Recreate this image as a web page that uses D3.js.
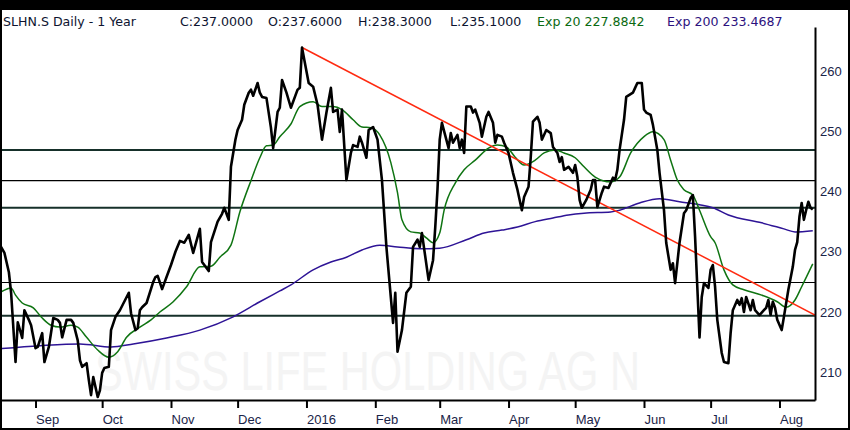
<!DOCTYPE html>
<html>
<head>
<meta charset="utf-8">
<script src="https://cdn.jsdelivr.net/npm/d3@7"></script>
<style>
  body { margin: 0; background: #000; }
  svg { display: block; }
</style>
</head>
<body>
<div id="chart"></div>
<script>
// Day numbers are days after 16 Aug 2015
const startDate = new Date(2015, 7, 16);
const endDay = 367;

// Daily close (approx): [day, price]
const price = [
  [0,231.1],[2,229.8],[4,226.6],[5,223.2],[7,211.7],[8,218.3],[10,215.7],[11,220.3],[13,218.7],[14,217.8],
  [16,214.0],[17,214.2],[19,216.5],[20,211.7],[22,214.2],[24,219.0],[26,218.7],[27,218.2],[28,215.8],[30,218.7],
  [32,218.7],[33,218.2],[35,215.3],[36,212.0],[37,210.9],[39,211.5],[40,208.7],[41,206.2],[42,209.2],[44,205.9],
  [45,207.0],[46,209.9],[47,210.7],[49,210.9],[50,217.0],[52,219.2],[54,220.3],[58,223.2],[59,219.8],[61,217.0],
  [62,217.3],[63,220.3],[64,220.8],[66,221.5],[69,225.0],[70,225.8],[71,226.0],[73,223.8],[75,225.8],[77,227.8],
  [79,230.0],[81,231.8],[83,231.5],[85,232.8],[87,229.8],[90,233.8],[91,228.3],[94,226.8],[95,231.6],[98,235.0],
  [100,236.3],[101,237.3],[103,235.3],[104,244.1],[106,248.6],[107,250.2],[109,251.9],[110,254.4],[112,256.4],[113,256.9],
  [114,255.9],[116,258.0],[117,256.4],[118,255.7],[120,255.5],[122,250.6],[123,247.2],[125,253.2],[126,253.9],[127,258.5],
  [129,256.4],[131,253.9],[134,256.9],[135,257.2],[136,263.9],[137,261.9],[139,258.0],[141,257.4],[143,254.4],[145,248.6],
  [147,253.1],[149,257.2],[150,253.2],[152,253.6],[153,249.9],[154,253.6],[156,241.9],[158,246.4],[159,247.7],[161,247.4],
  [162,249.1],[163,248.1],[165,245.6],[166,250.2],[168,250.7],[170,248.6],[172,241.9],[174,230.8],[177,218.2],[178,223.2],
  [179,213.4],[181,217.0],[183,223.2],[185,224.2],[186,230.8],[188,232.0],[189,230.8],[190,233.1],[193,225.3],[195,228.6],
  [196,234.1],[197,240.3],[198,248.6],[199,251.4],[202,247.2],[203,249.7],[204,248.1],[206,249.4],[207,247.2],[208,248.6],
  [209,246.4],[210,254.1],[212,254.1],[213,253.1],[214,253.6],[216,251.4],[217,249.1],[219,252.4],[220,253.2],[222,251.4],
  [223,248.1],[224,249.4],[226,249.1],[227,248.1],[229,246.4],[231,243.1],[233,240.3],[235,236.9],[236,239.1],[238,240.8],
  [239,245.7],[240,251.6],[242,252.4],[243,251.4],[244,248.6],[246,250.2],[248,249.7],[249,247.4],[251,246.4],[252,244.9],
  [253,245.7],[254,243.6],[256,244.1],[258,243.1],[259,244.4],[260,242.4],[261,238.6],[262,237.3],[264,238.6],[266,240.3],
  [267,241.9],[268,241.9],[269,237.4],[271,239.8],[272,240.8],[274,240.6],[276,242.3],[277,241.9],[278,243.6],[279,246.9],
  [281,251.9],[282,255.7],[285,256.4],[286,257.2],[287,258.0],[289,258.0],[290,253.6],[291,253.1],[293,252.7],[294,251.1],
  [296,246.9],[297,243.1],[299,236.9],[300,231.5],[302,227.0],[303,228.1],[304,224.8],[306,231.5],[308,236.4],[309,236.9],
  [311,238.9],[312,239.4],[313,232.5],[314,224.2],[315,215.8],[316,222.5],[317,224.8],[319,224.0],[320,227.0],[321,227.8],
  [322,224.2],[323,218.7],[325,213.2],[326,211.7],[328,211.5],[329,216.5],[330,220.3],[332,222.0],[333,221.2],[334,222.3],
  [335,220.0],[336,222.5],[338,220.3],[339,222.0],[340,220.3],[342,219.5],[344,220.3],[345,220.7],[346,222.0],[347,219.5],
  [348,221.7],[349,220.7],[350,218.7],[352,217.0],[353,219.2],[355,223.7],[357,227.5],[358,230.3],[359,231.6],[360,235.8],
  [361,238.1],[362,235.3],[363,236.9],[364,238.3],[365,237.3],[366,237.0]
];

// 20-day exponential average
const exp20 = [
  [0,223.2],[5,224.0],[7,222.8],[10,221.5],[15,220.7],[19,219.0],[23,217.8],[27,217.5],[32,217.8],[35,217.5],
  [39,215.8],[44,213.7],[49,212.5],[53,213.4],[57,215.8],[63,217.5],[68,218.7],[72,220.0],[78,221.7],[84,224.2],
  [90,227.5],[95,227.6],[99,229.1],[104,231.1],[108,236.6],[113,241.8],[117,245.6],[120,247.6],[123,247.7],[126,249.1],
  [131,251.2],[135,254.1],[141,254.9],[145,254.1],[150,254.1],[154,253.6],[159,251.9],[163,250.7],[167,250.6],[171,249.4],
  [176,244.8],[179,239.8],[181,235.3],[185,233.3],[189,233.1],[192,232.3],[195,231.5],[198,233.1],[200,236.9],[205,241.4],
  [209,243.6],[214,245.2],[220,247.2],[224,247.7],[228,247.4],[232,245.7],[236,244.4],[241,245.2],[245,246.4],[250,246.9],
  [254,246.4],[259,245.6],[263,244.1],[268,242.4],[275,241.6],[279,242.4],[284,246.4],[290,249.1],[294,249.9],[299,248.6],
  [302,245.2],[305,241.9],[308,240.3],[312,239.4],[315,236.9],[320,232.5],[322,231.5],[326,227.0],[330,224.5],[335,223.7],
  [343,222.8],[350,221.7],[354,220.8],[358,222.0],[361,224.2],[366,228.0]
];

// 200-day exponential average
const exp200 = [
  [0,213.9],[18,214.4],[36,214.7],[50,214.2],[60,214.7],[75,215.7],[90,217.0],[105,219.2],[117,221.7],[126,223.5],
  [131,224.5],[141,227.0],[149,228.3],[156,229.1],[163,230.3],[171,231.1],[179,230.8],[189,230.5],[198,230.6],[210,232.0],
  [218,233.1],[226,233.6],[233,234.1],[241,235.0],[249,235.6],[256,236.1],[263,236.4],[275,236.6],[279,236.9],[288,238.1],
  [297,238.8],[306,238.3],[315,237.8],[321,237.3],[328,236.1],[343,234.8],[353,233.8],[358,233.3],[366,233.5]
];

// red trend line (from the December high)
const trend = [[136,263.9],[367,219.5]];

// horizontal support / resistance levels
const levels = [246.9, 241.8, 237.3, 224.9, 219.4];
const levelHeavy = [true, false, true, false, true];

const yTicks = [210, 220, 230, 240, 250, 260];

const header = [
  { text: "SLHN.S Daily -  1 Year", x: 3, color: "#0d1430" },
  { text: "C:237.0000", x: 180, color: "#0d1430" },
  { text: "O:237.6000", x: 268, color: "#0d1430" },
  { text: "H:238.3000", x: 358, color: "#0d1430" },
  { text: "L:235.1000", x: 450, color: "#0d1430" },
  { text: "Exp 20 227.8842", x: 537, color: "#0b6a12" },
  { text: "Exp 200 233.4687", x: 667, color: "#2c127e" }
];

const W = 850, H = 430;
const plot = { left: 0, right: 815, top: 27, bottom: 400 };

const day = d => d3.timeDay.offset(startDate, d);

const svg = d3.select("#chart")
    .append("svg")
    .attr("width", W)
    .attr("height", H)
    .style("font-family", "'DejaVu Sans', sans-serif");

// black frame with white inside
svg.append("rect").attr("width", W).attr("height", H).attr("fill", "#000");
svg.append("rect")
    .attr("x", 2).attr("y", 10)
    .attr("width", W - 4).attr("height", H - 12)
    .attr("fill", "#fff");

const x = d3.scaleTime()
    .domain([startDate, day(endDay)])
    .range([plot.left, plot.right]);

const y = d3.scaleLinear()
    .domain([205.4, 267.3])
    .range([plot.bottom, plot.top]);

svg.append("clipPath").attr("id", "clip")
  .append("rect")
    .attr("x", 2).attr("y", plot.top)
    .attr("width", plot.right - 2).attr("height", plot.bottom - plot.top);

// watermark (tall, faint)
svg.append("text")
    .attr("transform", "translate(95,390) scale(1,1.45)")
    .attr("textLength", 545)
    .attr("lengthAdjust", "spacingAndGlyphs")
    .style("font-family", "'Liberation Sans', sans-serif")
    .style("font-size", "38px")
    .attr("fill", "#f4f4f4")
    .text("SWISS LIFE HOLDING AG N");

const g = svg.append("g").attr("clip-path", "url(#clip)");

// levels
g.selectAll(".level")
  .data(levels)
  .join("line")
    .attr("x1", plot.left).attr("x2", plot.right)
    .attr("y1", d => y(d)).attr("y2", d => y(d))
    .attr("stroke", (d, i) => levelHeavy[i] ? "#16302a" : "#000")
    .attr("stroke-width", (d, i) => levelHeavy[i] ? 2 : 1.2);

const line = d3.line()
    .x(d => x(day(d[0])))
    .y(d => y(d[1]));

g.append("path").datum(exp200)
    .attr("d", line.curve(d3.curveMonotoneX))
    .attr("fill", "none").attr("stroke", "#2e1496").attr("stroke-width", 1.5);

g.append("path").datum(exp20)
    .attr("d", line.curve(d3.curveMonotoneX))
    .attr("fill", "none").attr("stroke", "#0f7412").attr("stroke-width", 1.5);

g.append("path").datum(trend)
    .attr("d", line.curve(d3.curveLinear))
    .attr("fill", "none").attr("stroke", "#ff2a10").attr("stroke-width", 1.5);

g.append("path").datum(price)
    .attr("d", line.curve(d3.curveLinear))
    .attr("fill", "none").attr("stroke", "#000")
    .attr("stroke-width", 2.6).attr("stroke-linejoin", "round");

// bottom axis
const fmt = d => d.getMonth() === 0 ? d3.timeFormat("%Y")(d) : d3.timeFormat("%b")(d);
const xAxis = svg.append("g")
    .attr("transform", `translate(0,${plot.bottom})`)
    .call(d3.axisBottom(x).ticks(d3.timeMonth.every(1)).tickFormat(fmt).tickSize(8).tickSizeOuter(0));
xAxis.select(".domain").attr("stroke", "#000").attr("stroke-width", 2);
xAxis.selectAll(".tick line").attr("stroke", "#000").attr("stroke-width", 2);
xAxis.selectAll(".tick text")
    .attr("text-anchor", "start")
    .attr("x", 0)
    .attr("y", 15)
    .attr("fill", "#1a2448")
    .style("font-size", "13px");

// right axis
const yAxis = svg.append("g")
    .attr("transform", `translate(${plot.right},0)`)
    .call(d3.axisRight(y).tickValues(yTicks).tickSize(0).tickPadding(5).tickSizeOuter(0));
yAxis.select(".domain").attr("stroke", "#000").attr("stroke-width", 2);
yAxis.selectAll(".tick text")
    .attr("fill", "#1a2448")
    .style("font-size", "13px");

// header
svg.append("text")
    .attr("y", 26)
    .style("font-size", "12.6px")
  .selectAll("tspan")
  .data(header)
  .join("tspan")
    .attr("x", d => d.x)
    .attr("fill", d => d.color)
    .text(d => d.text);
</script>
</body>
</html>
